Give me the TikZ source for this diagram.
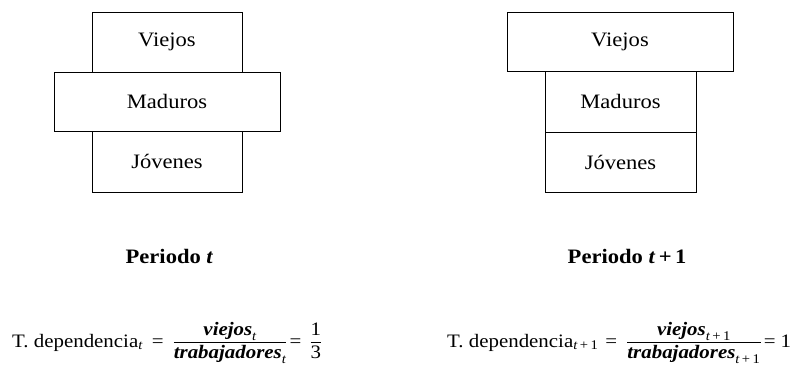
\documentclass[tikz,border=0pt]{standalone}
\usepackage{amsmath}
\usepackage{fontspec}
\setmainfont{Liberation Serif}[FakeStretch=1.1]
\newcommand\boxfont{\fontsize{20.5}{24}\selectfont}
\newcommand\eqfont{\fontsize{19}{22}\selectfont}
\newcommand\bi[1]{\textbf{\textit{#1}}}
\newcommand\sub[1]{$_{\textit{#1}}$}
\newcommand\tpo{\textit{t}\hspace{2.5pt}\text{+}\hspace{2.5pt}\text{1}}
\begin{document}
\begin{tikzpicture}[x=1pt,y=-1pt,
  box/.style={draw, line width=0.9pt, inner sep=0pt, font=\boxfont},
  lbl/.style={anchor=base, inner sep=0pt, font=\boxfont\bfseries},
  eq/.style={anchor=base west, inner sep=0pt, font=\eqfont}]
\useasboundingbox (0,0) rectangle (800,366);
% Periodo t
\node[box, minimum width=150, minimum height=60] (v1) at (167,42) {Viejos};
\node[box, minimum width=226, minimum height=59] (m1) at (167,101.5) {Maduros};
\node[box, minimum width=150, minimum height=61] (j1) at (167,161.5) {Jóvenes};
% Periodo t+1
\node[box, minimum width=226, minimum height=59] (v2) at (620,41.5) {Viejos};
\node[box, minimum width=151, minimum height=61] (m2) at (620.5,101.5) {Maduros};
\node[box, minimum width=151, minimum height=60] (j2) at (620.5,162) {Jóvenes};
% labels
\node[lbl] (p1) at (169.5,263) {Periodo \textit{t}};
\node[lbl] (p2) at (627,263) {Periodo \textit{t}\,+\,1};
% formulas
\node[eq] (f1) at (12,347) {T. dependencia\sub{t}\hspace{9pt}=\hspace{9pt}$\displaystyle\frac{\bi{viejos}_{\textit{t}}}{\bi{trabajadores}_{\textit{t}}}$\hspace{2pt}=\hspace{8pt}$\displaystyle\frac{\text{1}}{\text{3}}$};
\node[eq] (f2) at (447,347) {T. dependencia$_{\tpo}$\hspace{7pt}=\hspace{9pt}$\displaystyle\frac{\bi{viejos}_{\tpo}}{\bi{trabajadores}_{\tpo}}$\hspace{2pt}=\hspace{5pt}1};
\end{tikzpicture}
\end{document}
